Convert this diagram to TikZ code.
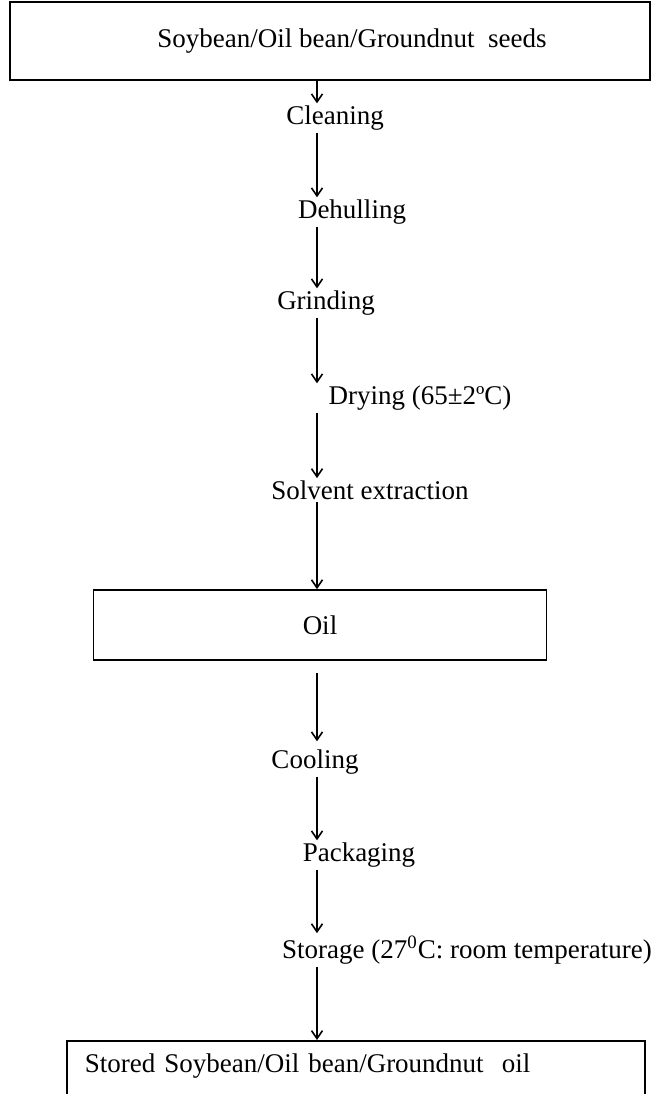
\documentclass[tikz,border=0pt]{standalone}
\usepackage{fontspec}
\setmainfont{Liberation Serif}
\usepackage{tikz}
\usetikzlibrary{arrows.meta,positioning}

\begin{document}
\begin{tikzpicture}[
    x=0.5pt, y=0.5pt,
    every node/.style={font=\fontsize{13.5pt}{16pt}\selectfont},
    box/.style={rectangle, draw, line width=0.8pt, text centered},
    stage/.style={inner sep=1pt},
    arrow/.style={->, >={Straight Barb[length=4pt,width=5.5pt,line width=0.8pt]}, line width=0.65pt}
]
    \useasboundingbox (0,0) rectangle (655,-1094);
    \clip (0,0) rectangle (655,-1094);
    \coordinate (spine) at (317,0);

    \node[box, minimum width=320pt, minimum height=39pt] (seeds) at (330,-41) {\hspace*{22pt}Soybean/Oil bean/Groundnut~ seeds};
    \node[stage, below of=seeds, node distance=38.5pt, xshift=2.5pt] (cleaning) {Cleaning};
    \node[stage, below of=cleaning, node distance=47pt, xshift=8.5pt] (dehulling) {Dehulling};
    \node[stage, below of=dehulling, node distance=45.5pt, xshift=-13pt] (grinding) {Grinding};
    \node[stage, below of=grinding, node distance=47.5pt, xshift=47pt] (drying) {Drying (65±2ºC)};
    \node[stage, below of=drying, node distance=46pt, xshift=-25pt] (solvent) {Solvent extraction};
    \node[box, minimum width=226.5pt, minimum height=35pt, below of=solvent, node distance=67.5pt, xshift=-25pt] (oil) {Oil};
    \node[stage, below of=oil, node distance=68.5pt, xshift=-2.5pt] (cooling) {Cooling};
    \node[stage, below of=cooling, node distance=46.5pt, xshift=22pt] (packaging) {Packaging};
    \node[stage, below of=packaging, node distance=47.5pt, xshift=54pt] (storage) {Storage (27\textsuperscript{0}C: room temperature)};
    \node[box, anchor=north west, text width=271pt, align=left, inner xsep=9pt, inner ysep=4pt,
          text height=12pt, text depth=40pt] (stored) at (66,-1040) {Stored Soybean/Oil bean/Groundnut~ oil};

    \draw[arrow] (seeds.south -| spine) -- (cleaning.north -| spine);
    \draw[arrow] (cleaning.south -| spine) -- (dehulling.north -| spine);
    \draw[arrow] (dehulling.south -| spine) -- (grinding.north -| spine);
    \draw[arrow] (grinding.south -| spine) -- (drying.north -| spine);
    \draw[arrow] (drying.south -| spine) -- (solvent.north -| spine);
    \draw[arrow] (solvent.south -| spine) -- (oil.north -| spine);
    \draw[arrow, shorten <=6pt, shorten >=3pt] (oil.south -| spine) -- (cooling.north -| spine);
    \draw[arrow] (cooling.south -| spine) -- (packaging.north -| spine);
    \draw[arrow] (packaging.south -| spine) -- (storage.north -| spine);
    \draw[arrow] (storage.south -| spine) -- (stored.north -| spine);
\end{tikzpicture}
\end{document}
